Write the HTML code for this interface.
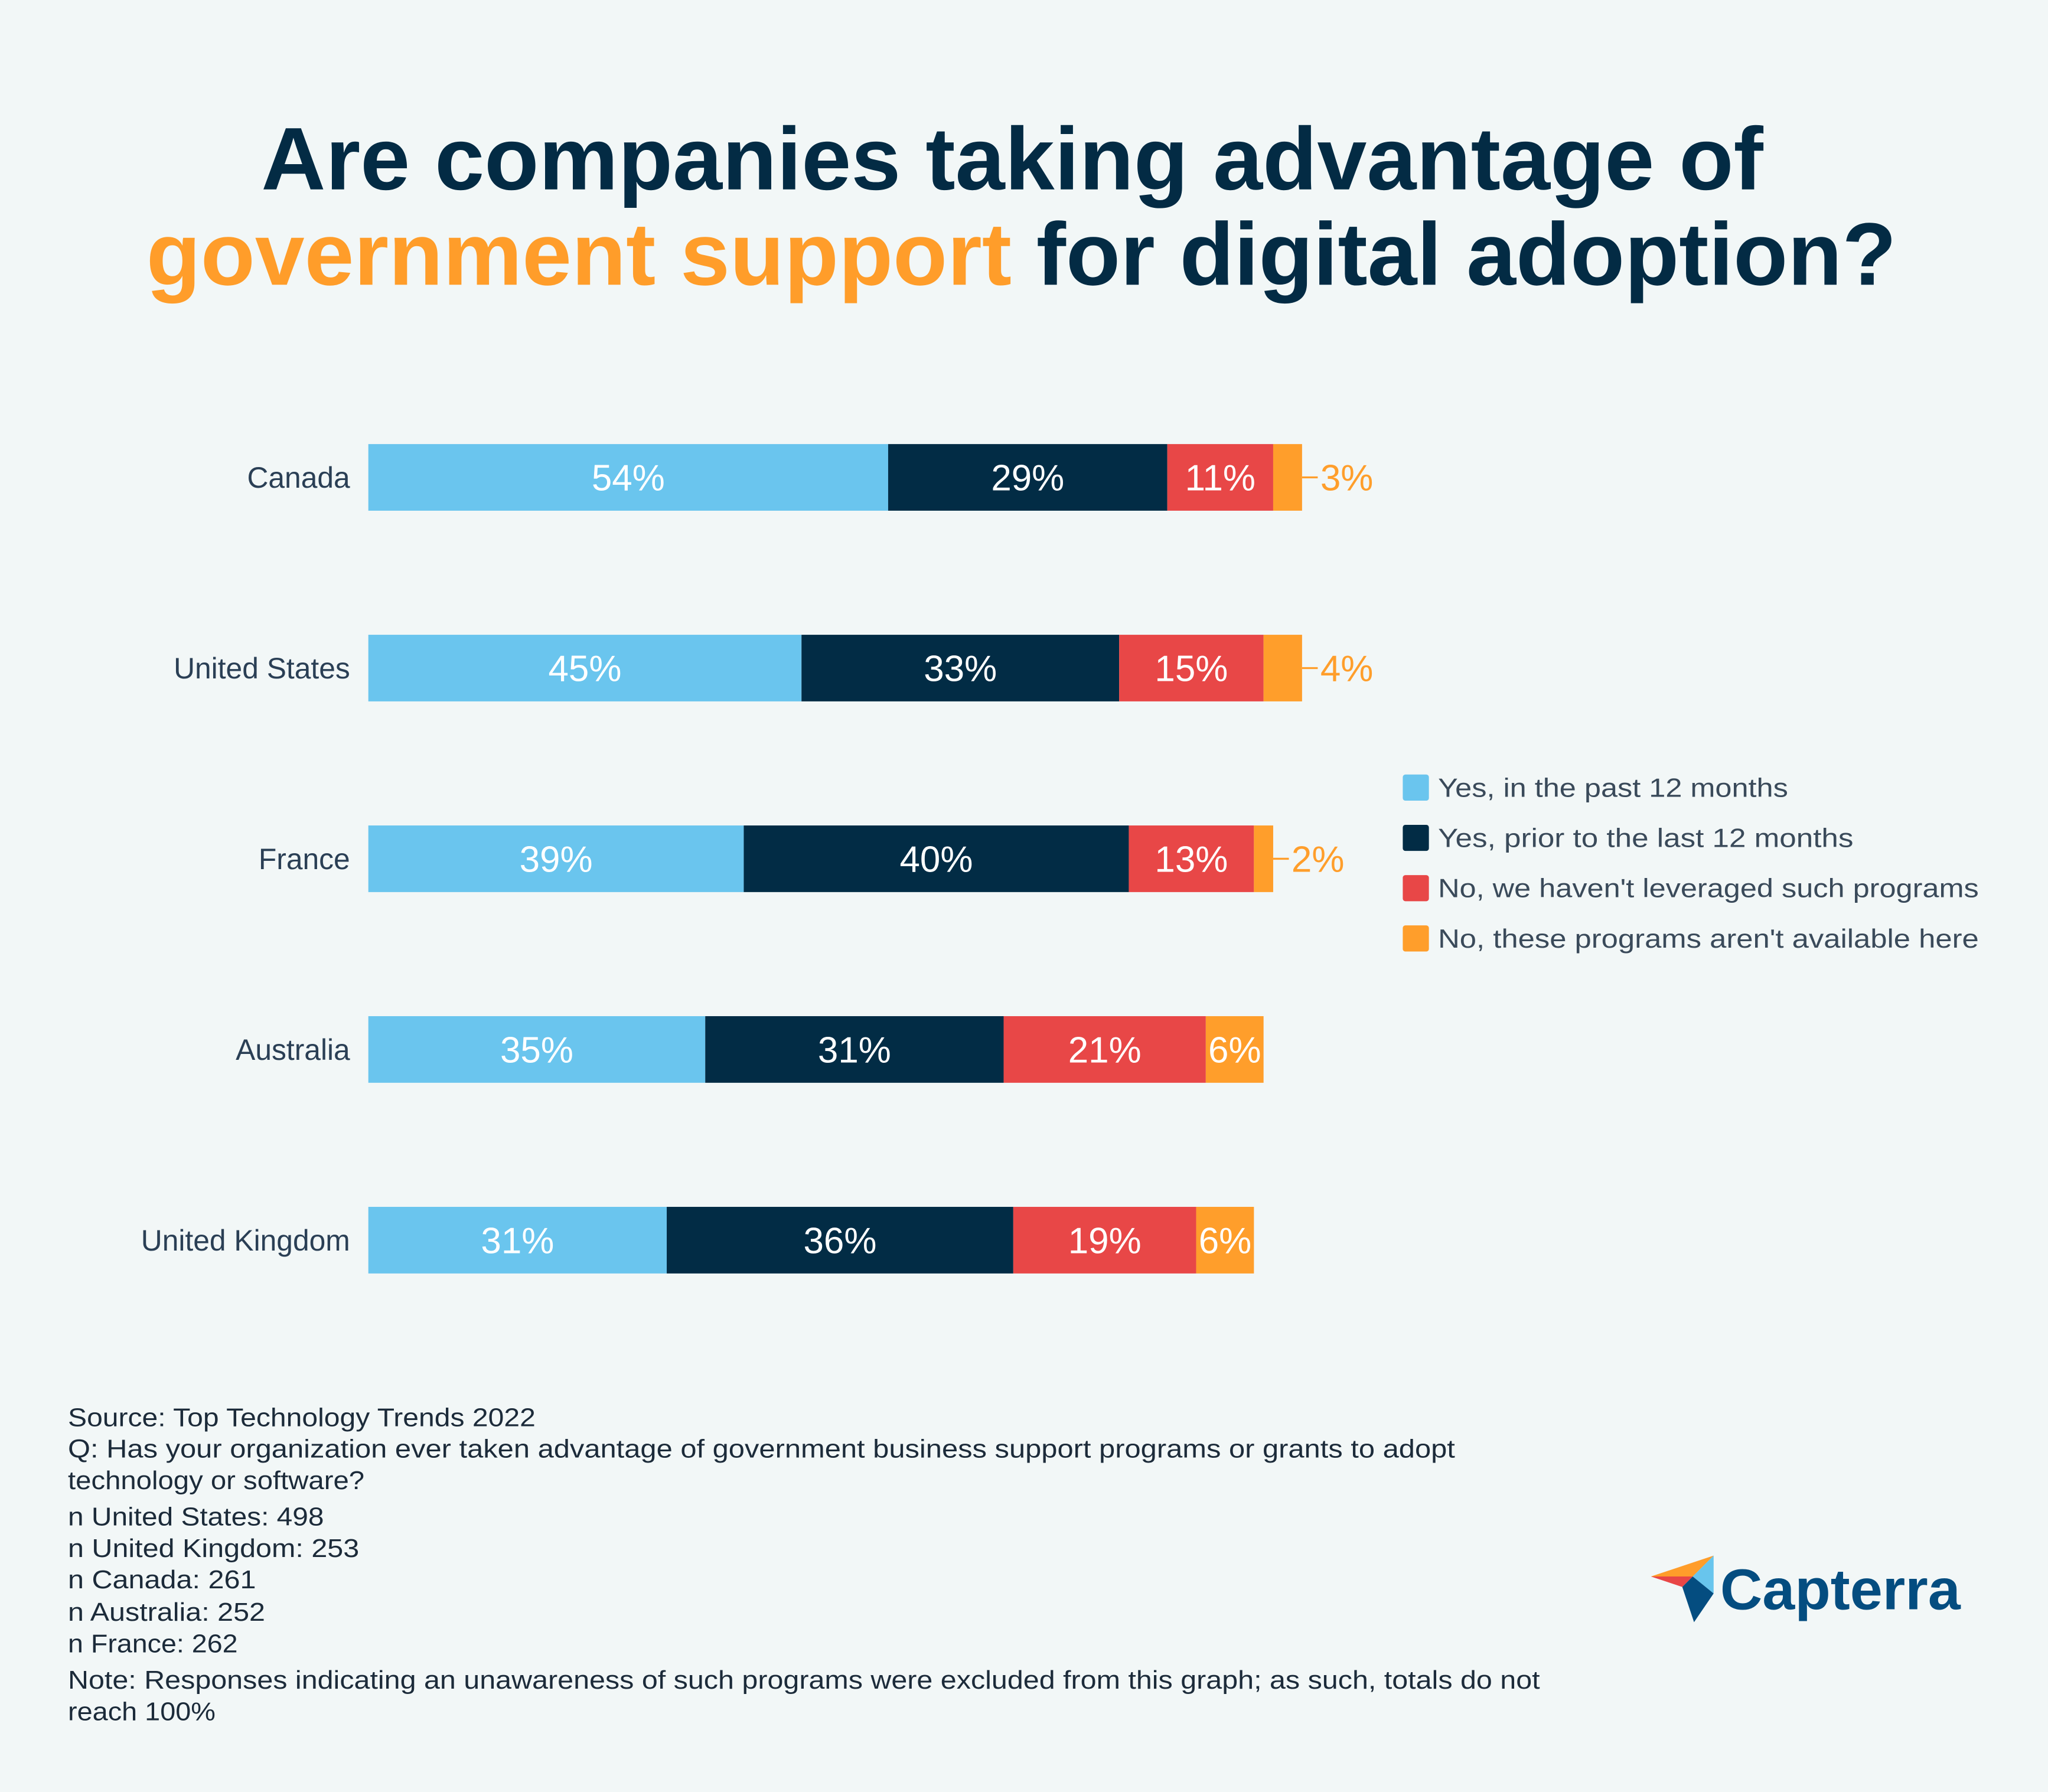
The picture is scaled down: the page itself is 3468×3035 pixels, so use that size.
<!DOCTYPE html>
<html><head><meta charset="utf-8"><style>
html,body{margin:0;padding:0;background:#F2F7F7;}
svg{display:block;font-family:"Liberation Sans",sans-serif;}
</style></head><body>
<svg id="chart" width="3468" height="3035" viewBox="0 0 1568 1372" preserveAspectRatio="none" xmlns="http://www.w3.org/2000/svg">
<rect width="1568" height="1372" fill="#F2F7F7"/>
<text x="200" y="145" textLength="1150" lengthAdjust="spacingAndGlyphs" font-size="68" font-weight="bold" fill="#032B44">Are companies taking advantage of</text>
<text x="112" y="218" textLength="1340" lengthAdjust="spacingAndGlyphs" font-size="68" font-weight="bold" fill="#032B44"><tspan fill="#FF9D2A">government support</tspan> for digital adoption?</text>
<g id="bars"></g>
<g id="legend"></g>
<g font-size="19.5" fill="#1c2b3a" lengthAdjust="spacingAndGlyphs">
<text x="52" y="1092" textLength="358" lengthAdjust="spacingAndGlyphs">Source: Top Technology Trends 2022</text>
<text x="52" y="1116" textLength="1062" lengthAdjust="spacingAndGlyphs">Q: Has your organization ever taken advantage of government business support programs or grants to adopt</text>
<text x="52" y="1140" textLength="227" lengthAdjust="spacingAndGlyphs">technology or software?</text>
<text x="52" y="1168" textLength="196" lengthAdjust="spacingAndGlyphs">n United States: 498</text>
<text x="52" y="1192" textLength="223" lengthAdjust="spacingAndGlyphs">n United Kingdom: 253</text>
<text x="52" y="1216" textLength="144" lengthAdjust="spacingAndGlyphs">n Canada:  261</text>
<text x="52" y="1241" textLength="151" lengthAdjust="spacingAndGlyphs">n Australia: 252</text>
<text x="52" y="1265" textLength="130" lengthAdjust="spacingAndGlyphs">n France: 262</text>
<text x="52" y="1293" textLength="1127" lengthAdjust="spacingAndGlyphs">Note: Responses indicating an unawareness of such programs were excluded from this graph; as such, totals do not</text>
<text x="52" y="1317" textLength="113" lengthAdjust="spacingAndGlyphs">reach 100%</text>
</g>
<g>
<polygon points="1264,1207 1312,1191 1296,1207" fill="#FF9D2A"/>
<polygon points="1296,1207 1312,1191 1312,1220" fill="#68C5ED"/>
<polygon points="1264,1207 1296,1207 1288,1215" fill="#E84646"/>
<polygon points="1288,1215 1296,1207 1312,1220 1297,1242" fill="#044D80"/>
<text x="1317" y="1232" textLength="184" lengthAdjust="spacingAndGlyphs" font-size="44" font-weight="bold" fill="#044D80">Capterra</text>
</g>
<script>
const countries = ["Canada","United States","France","Australia","United Kingdom"];
const seriesNames = ["Yes, in the past 12 months","Yes, prior to the last 12 months","No, we haven't leveraged such programs","No, these programs aren't available here"];
const legendWidths = [268,318,414,414];
const yesPast12 = [54,45,39,35,31];
const yesPrior = [29,33,40,31,36];
const noNotLeveraged = [11,15,13,21,19];
const noNotAvailable = [3,4,2,6,6];
const colors = ["#6AC5EE","#022C45","#E84747","#FF9E2B"];
const series = [yesPast12,yesPrior,noNotLeveraged,noNotAvailable];
const NS="http://www.w3.org/2000/svg";
const x0=282, pxPer=7.37, y0=340, step=146, bh=51;
const xs=v=>v*pxPer;
const yc=i=>y0+i*step;
const g=document.getElementById('bars');
function mk(t,a){const e=document.createElementNS(NS,t);for(const k in a)e.setAttribute(k,a[k]);return e;}
countries.forEach((c,i)=>{
  const lab=mk('text',{x:268,y:yc(i)+bh/2+8,'text-anchor':'end','font-size':22.5,fill:'#2A3F55'});
  lab.textContent=c;
  
  
  g.appendChild(lab);
  let x=x0;
  series.forEach((s,j)=>{
    const w=xs(s[i]);
    const r=mk('rect',{x:x,y:yc(i),width:w,height:bh,fill:colors[j]});
    
    
    g.appendChild(r);
    const t=mk('text',{'font-size':28,'text-anchor':'middle'});
    t.textContent=s[i]+'%';
    
    
    if(j===3 && s[i]<5){
      const ln=mk('line',{x1:x+w,x2:x+w+12,y1:yc(i)+bh/2,y2:yc(i)+bh/2,stroke:colors[3],'stroke-width':1.5});
      
      
      g.appendChild(ln);
      t.setAttribute('x',x+w+14);t.setAttribute('text-anchor','start');
      t.setAttribute('fill',colors[3]);
    } else {
      t.setAttribute('x',x+w/2);t.setAttribute('fill','#fff');
    }
    t.setAttribute('y',yc(i)+bh/2+10);
    g.appendChild(t);
    x+=w;
  });
});
const lg=document.getElementById('legend');
seriesNames.forEach((n,j)=>{
  const y=593+j*38.5;
  const r=mk('rect',{x:1074,y:y,width:20,height:20,rx:2,fill:colors[j]});
  
  
  lg.appendChild(r);
  const t=mk('text',{x:1101,y:y+17,'font-size':20,fill:'#3A4A5A',textLength:legendWidths[j],lengthAdjust:'spacingAndGlyphs'});
  t.textContent=n;
  
  
  lg.appendChild(t);
});
</script>
</svg>
</body></html>
